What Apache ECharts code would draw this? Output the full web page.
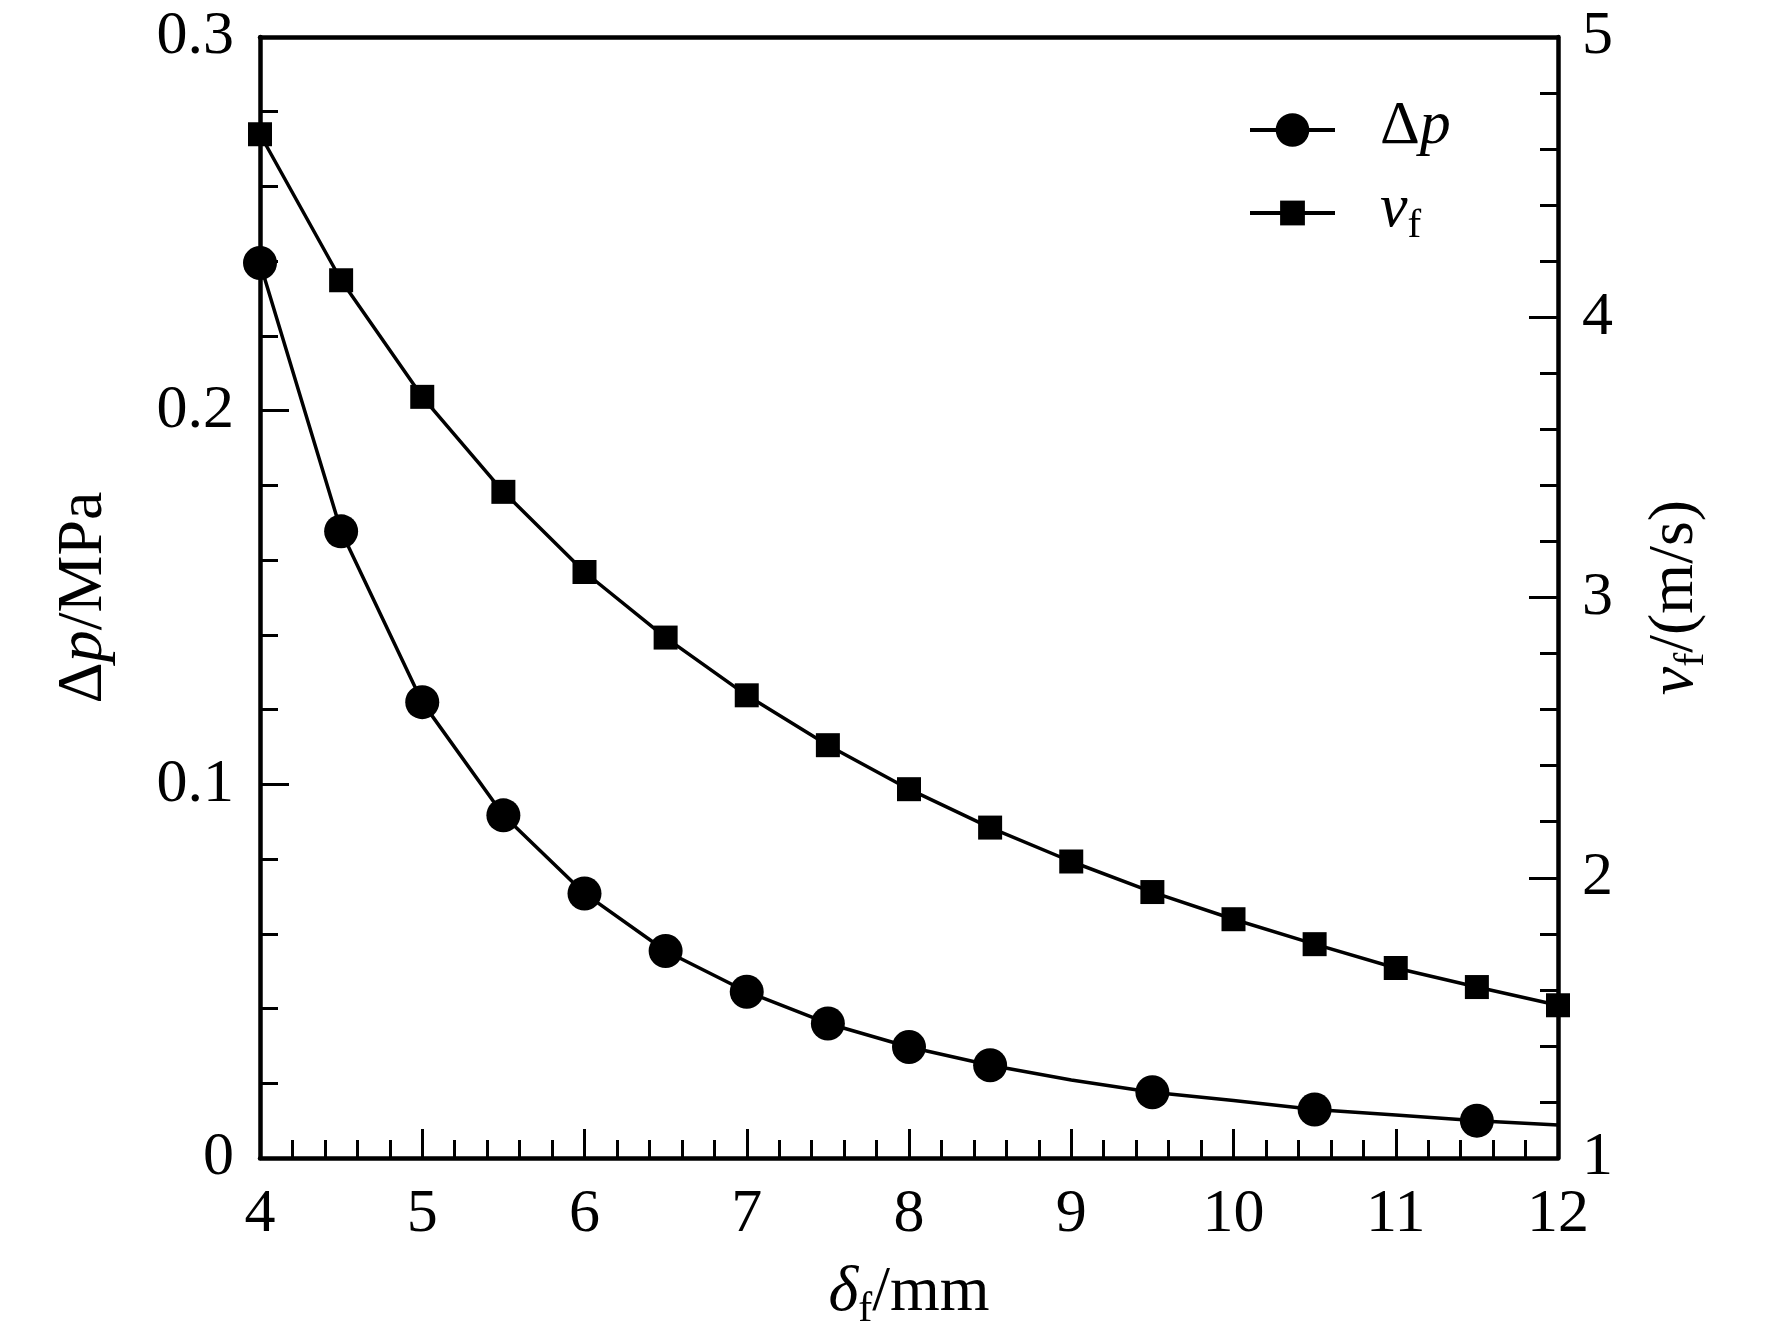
<!DOCTYPE html>
<html>
<head>
<meta charset="utf-8">
<script src="https://cdn.jsdelivr.net/npm/echarts@6/dist/echarts.min.js"></script>
<style>
  html, body { margin: 0; padding: 0; background: #fff; }
  #chart { width: 1772px; height: 1344px; }
</style>
</head>
<body>
<div id="chart"></div>
<script>
// film thickness, mm
const thickness = [4, 4.5, 5, 5.5, 6, 6.5, 7, 7.5, 8, 8.5, 9, 9.5, 10, 10.5, 11, 11.5, 12]
// pressure drop, MPa
const pressureDrop = [0.2395, 0.1677, 0.122, 0.0917, 0.0708, 0.0554, 0.0445, 0.036, 0.0297, 0.0248,
    0.0209, 0.0176, 0.0154, 0.013, 0.0115, 0.010, 0.0088]
// which pressure points carry a marker
const pressureMarked = [1, 1, 1, 1, 1, 1, 1, 1, 1, 1, 0, 1, 0, 1, 0, 1, 0]
// film velocity, m/s
const velocity = [4.653, 4.132, 3.716, 3.377, 3.091, 2.857, 2.651, 2.473, 2.316, 2.179,
    2.058, 1.949, 1.852, 1.763, 1.678, 1.610, 1.545]

const FONT = 'Liberation Serif'

// rich text styles for names with italic symbols and subscripts
const richText = (size) => ({
    d: { fontFamily: FONT, fontSize: size, color: '#000', lineHeight: size + 6, verticalAlign: 'top' },
    i: { fontFamily: FONT, fontSize: size, fontStyle: 'italic', color: '#000', lineHeight: size + 6, verticalAlign: 'top' },
    s: { fontFamily: FONT, fontSize: Math.round(size * 0.66), color: '#000', lineHeight: 30, verticalAlign: 'bottom' },
    sp: { width: 40 },
})

const axisLabel = (margin) => ({
    fontFamily: FONT, fontSize: 62, color: '#000', margin: margin,
})

const axisLine = { color: '#000', width: 4.5 }
const tickLine = { color: '#000', width: 3 }

const chart = echarts.init(document.getElementById('chart'), null, { renderer: 'canvas' })

chart.setOption({
    backgroundColor: '#fff',
    animation: false,
    grid: { left: 260, right: 214, top: 37, bottom: 186 },
    legend: [
        {
            data: ['dp'],
            left: 1243, top: 91,
            itemWidth: 85, itemHeight: 42,
            lineStyle: { width: 4 },
            formatter: () => '{sp| }{d|Δ}{i|p}',
            textStyle: { rich: richText(62) },
        },
        {
            data: ['vf'],
            left: 1243, top: 174,
            itemWidth: 85, itemHeight: 31,
            lineStyle: { width: 4 },
            formatter: () => '{sp| }{i|v}{s|f}',
            textStyle: { rich: richText(62) },
        },
    ],
    xAxis: [
        {
            type: 'value', min: 4, max: 12, interval: 1,
            name: '{i|δ}{s|f}{d|/mm}',
            nameLocation: 'middle', nameGap: 103,
            nameTextStyle: { rich: richText(64) },
            axisLine: { lineStyle: axisLine },
            axisTick: { inside: true, length: 29, lineStyle: tickLine },
            minorTick: { show: true, splitNumber: 5, length: 18, lineStyle: tickLine },
            axisLabel: axisLabel(26),
            splitLine: { show: false },
        },
        {
            type: 'value', min: 4, max: 12, position: 'top',
            axisLine: { show: true, onZero: false, lineStyle: axisLine },
            axisTick: { show: false },
            axisLabel: { show: false },
            splitLine: { show: false },
        },
    ],
    yAxis: [
        {
            type: 'value', min: 0, max: 0.3, interval: 0.1, position: 'left',
            name: '{d|Δ}{i|p}{d|/MPa}',
            nameLocation: 'middle', nameGap: 138, nameRotate: 90,
            nameTextStyle: { rich: richText(64) },
            axisLine: { show: true, lineStyle: axisLine },
            axisTick: { inside: true, length: 29, lineStyle: tickLine },
            minorTick: { show: true, splitNumber: 5, length: 18, lineStyle: tickLine },
            axisLabel: axisLabel(26),
            splitLine: { show: false },
        },
        {
            type: 'value', min: 1, max: 5, interval: 1, position: 'right',
            name: '{i|v}{s|f}{d|/(m/s)}',
            nameLocation: 'middle', nameGap: 85, nameRotate: 90,
            nameTextStyle: { rich: richText(64) },
            axisLine: { show: true, lineStyle: axisLine },
            axisTick: { inside: true, length: 29, lineStyle: tickLine },
            minorTick: { show: true, splitNumber: 5, length: 18, lineStyle: tickLine },
            axisLabel: axisLabel(24),
            splitLine: { show: false },
        },
    ],
    series: [
        {
            name: 'dp',
            type: 'line',
            yAxisIndex: 0,
            clip: false,
            symbol: 'circle',
            symbolSize: 34,
            color: '#000',
            lineStyle: { color: '#000', width: 3.5 },
            itemStyle: { color: '#000' },
            data: thickness.map((x, i) => pressureMarked[i]
                ? [x, pressureDrop[i]]
                : { value: [x, pressureDrop[i]], symbol: 'none' }),
        },
        {
            name: 'vf',
            type: 'line',
            yAxisIndex: 1,
            clip: false,
            symbol: 'rect',
            symbolSize: 24,
            color: '#000',
            lineStyle: { color: '#000', width: 3.5 },
            itemStyle: { color: '#000' },
            data: thickness.map((x, i) => [x, velocity[i]]),
        },
    ],
})
</script>
</body>
</html>
